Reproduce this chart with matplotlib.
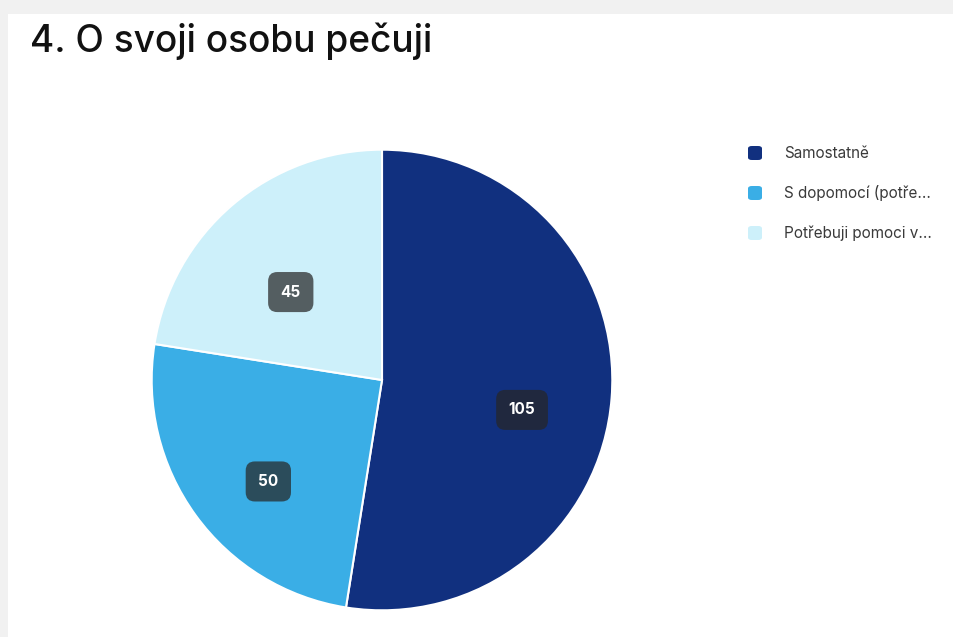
import numpy as np
import matplotlib
matplotlib.use("Agg")
import matplotlib.pyplot as plt
from matplotlib.patches import FancyBboxPatch, Rectangle

title = "4. O svoji osobu pečuji"
categories = ["Samostatně", "S dopomocí (potře...", "Potřebuji pomoci v..."]
values = [105, 50, 45]
colors = ["#11307f", "#3aaee6", "#cdf0fa"]

W, H = 954, 637
fig = plt.figure(figsize=(W / 100, H / 100), dpi=100)
fig.patch.set_facecolor("#f1f1f1")

# white card
fig.patches.append(Rectangle((8 / W, 0), 1, 1 - 14 / H, transform=fig.transFigure,
                             facecolor="white", edgecolor="none", zorder=-5))

fig.text(30 / W, 1 - 52 / H, title, fontsize=26.7, family="Inter", fontweight="medium",
         color="#111111", ha="left", va="baseline")

cx, cy, r = 382, 380, 231
ax = fig.add_axes([(cx - r) / W, (H - cy - r) / H, 2 * r / W, 2 * r / H])
ax.set_zorder(5)
wedges, _ = ax.pie(values, colors=colors, startangle=90, counterclock=False,
                   wedgeprops=dict(edgecolor="white", linewidth=1.5))
ax.set_xlim(-1.003, 1.003)
ax.set_ylim(-1.003, 1.003)
ax.axis("off")

label_dist = 0.61
label_drop = 0.082
for w, v in zip(wedges, values):
    ang = np.deg2rad((w.theta1 + w.theta2) / 2)
    x, y = label_dist * np.cos(ang), label_dist * np.sin(ang) - label_drop
    ax.text(x, y, str(v), ha="center", va="center", color="white", fontsize=11,
            fontweight="bold", family="Inter",
            bbox=dict(boxstyle="round,pad=0.82,rounding_size=0.6", facecolor="#262626",
                      alpha=0.72, edgecolor="none"))

# legend
for i, (c, lab) in enumerate(zip(colors, categories)):
    yy = 153 + i * 40
    fig.patches.append(FancyBboxPatch(((748) / W, 1 - (yy + 7) / H), 14 / W, 14 / H,
                                      boxstyle="round,pad=0,rounding_size=0.004",
                                      transform=fig.transFigure, facecolor=c,
                                      edgecolor="none", zorder=2))
    fig.text(784 / W, 1 - yy / H, lab, fontsize=11, family="Inter", color="#3a3a3a",
             ha="left", va="center")

fig.savefig("out.png", dpi=100, facecolor=fig.get_facecolor())
